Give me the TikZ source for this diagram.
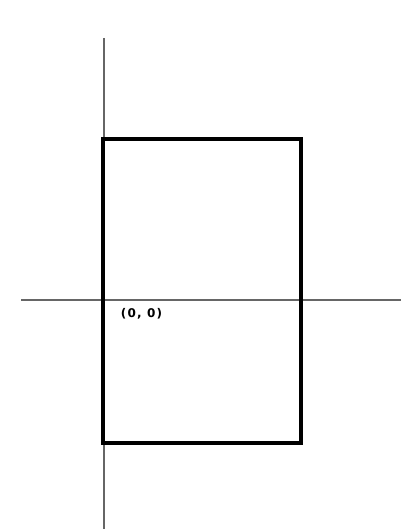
\documentclass[tikz,border=0pt]{standalone}
\usepackage{fontspec}
\newfontfamily\labelfont[LetterSpace=10]{DejaVu Sans}
\usepackage{tikz}
\usetikzlibrary{calc}

\begin{document}
\begin{tikzpicture}[x=1pt, y=-1pt,
		axis/.style={draw=black!60, line width=2pt},
		box/.style={draw=black, line width=4pt, line join=miter},
		font=\labelfont\bfseries\fontsize{12}{12}\selectfont]
		\useasboundingbox (0,0) rectangle (401,529);
		\def\ox{103.5} % x of vertical axis
		\def\oy{300}   % y of horizontal axis
		% axes
		\coordinate (xl) at (21,\oy);
		\coordinate (xr) at (401,\oy);
		\coordinate (yt) at (\ox,38);
		\coordinate (yb) at (\ox,529);
		\draw[axis] (xl) -- (xr);
		\draw[axis] (yt) -- (yb);
		% box
		\coordinate (nw) at (103,139.5);
		\coordinate (se) at (301,443);
		\draw[box] (nw) rectangle (se);
		\node (origin) at (141.5,314) {(0, 0)};
	\end{tikzpicture}
\end{document}
